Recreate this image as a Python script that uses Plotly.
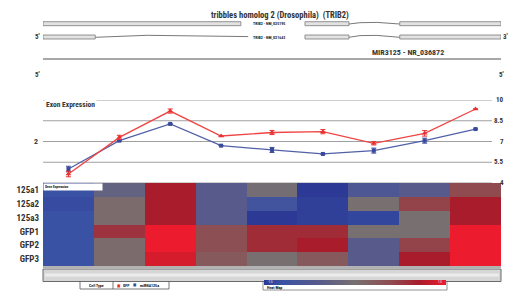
import plotly.graph_objects as go

# page is 520x306; the browser body margin (8px) offsets the figure, so the
# figure itself is 512x298 and page coordinates are converted below.
OFF = 8
W, H = 520 - OFF, 306 - OFF
def px(x): return (x - OFF) / W
def py(y): return 1 - (y - OFF) / H

FONT = "Liberation Sans Narrow, Roboto Condensed, DejaVu Sans Condensed, Arial Narrow, sans-serif"

# ---------------- data ----------------
exons = [1, 2, 3, 4, 5, 6, 7, 8, 9]
samples = ["125a1", "125a2", "125a3", "GFP1", "GFP2", "GFP3"]
heat_125a1 = [-0.8, -0.25, 0.7, -0.4, -0.05, -1.0, -0.55, -0.4, 0.4]
heat_125a2 = [-0.85, 0.05, 0.7, -0.4, -0.7, -0.95, 0.0, 0.45, 0.7]
heat_125a3 = [-0.8, 0.05, 0.7, -0.4, -1.0, -0.95, -0.9, 0.0, 0.7]
heat_gfp1 = [-0.8, 0.55, 1.0, 0.35, 0.6, 0.6, 0.0, 0.0, 1.0]
heat_gfp2 = [-0.8, 0.05, 1.0, 0.35, 0.6, 0.7, -0.4, 0.45, 1.0]
heat_gfp3 = [-0.8, 0.05, 0.9, 0.25, 0.0, 0.25, -0.4, 0.7, 1.0]

gfp_mean = [4.65, 7.30, 9.20, 7.40, 7.65, 7.71, 6.87, 7.59, 9.35]
gfp_err = [0.2, 0.15, 0.15, 0.0, 0.15, 0.15, 0.12, 0.2, 0.0]
mir_mean = [5.01, 7.06, 8.27, 6.70, 6.39, 6.10, 6.34, 7.06, 7.90]
mir_err = [0.2, 0.0, 0.0, 0.0, 0.18, 0.0, 0.18, 0.18, 0.0]
y_ticks = [4, 5.5, 7, 8.5, 10]

# transcript exon extents (track units 0-100)
tx1_exons = [(0, 43.2), (57.2, 66.8), (77.9, 100)]
tx2_exons = [(0, 11.4), (57.2, 66.8), (77.9, 100)]
tx1_intron_x = [66.8, 69.2, 72.9, 77.9]
tx2_intron1_x = [11.4, 22.7, 44.8]
tx2_intron2_x = [66.8, 69.2, 72.9, 77.9]

colorscale = [[0.0, "#2c3a96"], [0.1, "#3a52a3"], [0.3, "#575a8a"], [0.5, "#787070"],
              [0.7, "#8f4b50"], [0.85, "#a81c2c"], [1.0, "#ec1c2e"]]

XDOM = [px(43), px(501)]

fig = go.Figure()

# heatmap
fig.add_trace(go.Heatmap(
    z=[heat_125a1, heat_125a2, heat_125a3, heat_gfp1, heat_gfp2, heat_gfp3],
    x=list(range(len(exons))), y=samples, zmin=-1, zmax=1,
    colorscale=colorscale, xaxis="x", yaxis="y", hoverinfo="skip",
    colorbar=dict(orientation="h", x=px(355), xanchor="center", y=py(279.5), yanchor="top",
                  len=182, lenmode="pixels", thickness=5, xpad=0, ypad=0,
                  outlinewidth=0, showticklabels=False, ticks=""),
))

# line chart
fig.add_trace(go.Scatter(
    x=list(range(len(exons))), y=mir_mean, mode="lines+markers", xaxis="x2", yaxis="y2",
    line=dict(color="#5260a8", width=1.3),
    marker=dict(symbol="square", size=4, color="#3a4a9a"),
    error_y=dict(type="data", array=mir_err, color="#3a4a9a", thickness=1, width=2.5),
    showlegend=False, cliponaxis=False))
fig.add_trace(go.Scatter(
    x=list(range(len(exons))), y=gfp_mean, mode="lines+markers", xaxis="x2", yaxis="y2",
    line=dict(color="#f04444", width=1.3),
    marker=dict(symbol="triangle-up", size=5, color="#e83030"),
    error_y=dict(type="data", array=gfp_err, color="#e83030", thickness=1, width=2.5),
    showlegend=False, cliponaxis=False))

shapes = []
annotations = []

# gene track: exon boxes
for (a, b) in tx1_exons:
    shapes.append(dict(type="rect", xref="x3", yref="paper", x0=a, x1=b, y0=py(25.7), y1=py(21.7),
                       fillcolor="#e2e2e2", line=dict(color="#7a7a7a", width=0.8)))
for (a, b) in tx2_exons:
    shapes.append(dict(type="rect", xref="x3", yref="paper", x0=a, x1=b, y0=py(39), y1=py(35),
                       fillcolor="#e2e2e2", line=dict(color="#7a7a7a", width=0.8)))
# intron lines
for xs, ys in [(tx1_intron_x, [24, 22.7, 22.4, 24]),
               (tx2_intron1_x, [37.3, 35.3, 36.6]),
               (tx2_intron2_x, [37.3, 35.6, 35.4, 37.3])]:
    fig.add_trace(go.Scatter(x=xs, y=[py(v) for v in ys], mode="lines", xaxis="x3", yaxis="y3",
                             line=dict(color="#555", width=0.8), showlegend=False, hoverinfo="skip"))
# MIR3125 line
shapes.append(dict(type="line", xref="x3", yref="paper", x0=0, x1=100, y0=py(59), y1=py(59),
                   line=dict(color="#8a8a8a", width=1.5)))

def ann(text, x, y, size, xanchor="center", yanchor="middle", bold=False, color="#333", **kw):
    t = f"<b>{text}</b>" if bold else text
    annotations.append(dict(text=t, x=px(x), y=py(y), xref="paper", yref="paper", showarrow=False,
                            xanchor=xanchor, yanchor=yanchor,
                            font=dict(family=FONT, size=size, color=color), **kw))

ann("tribbles homolog 2 (Drosophila)  (TRIB2)", 280, 15, 8.5, bold=True)
ann("TRIB2 - NM_025195", 269, 23.6, 4, bold=True, color="#222")
ann("TRIB2 - NM_021643", 269, 37, 4, bold=True, color="#222")
ann("5'", 37, 37, 7, bold=True)
ann("3'", 505, 37, 7, bold=True)
ann("MIR3125 - NR_036872", 408, 52, 8, bold=True)
ann("5'", 37, 75, 7, bold=True)
ann("5'", 501, 75, 7, bold=True)

# line chart gridlines and labels
for t in y_ticks:
    shapes.append(dict(type="line", xref="paper", yref="y2", x0=px(43), x1=px(492), y0=t, y1=t,
                       line=dict(color="#a0a0a0", width=1), layer="below"))
    annotations.append(dict(text=f"<b>{t:g}</b>", x=px(506), y=t, xref="paper", yref="y2",
                            showarrow=False, xanchor="right", yanchor="middle",
                            font=dict(family=FONT, size=7, color="#333")))
annotations.append(dict(text="<b>2</b>", x=px(40), y=7, xref="paper", yref="y2", showarrow=False,
                        xanchor="right", yanchor="middle", font=dict(family=FONT, size=8, color="#333")))
ann("Exon Expression", 44, 104.5, 7.5, xanchor="left", bold=True, bgcolor="white", borderpad=1)

# gene expression tag on heatmap
ann("Gene Expression", 43, 182.5, 3.5, xanchor="left", yanchor="top", bold=True, color="#111",
    bgcolor="white", borderpad=1, width=56, align="left")

# bottom bar
shapes.append(dict(type="line", xref="paper", yref="paper", x0=px(43), x1=px(501), y0=py(267), y1=py(267),
                   line=dict(color="#666", width=1)))
shapes.append(dict(type="rect", xref="paper", yref="paper", x0=px(43), x1=px(501), y0=py(281.5), y1=py(269),
                   fillcolor="#d6d6d6", line=dict(color="#6a6a6a", width=1)))
shapes.append(dict(type="line", xref="paper", yref="paper", x0=px(45), x1=px(499), y0=py(275), y1=py(275),
                   line=dict(color="#ececec", width=3)))

# legend box
shapes.append(dict(type="rect", xref="paper", yref="paper", x0=px(80), x1=px(169), y0=py(289), y1=py(281.5),
                   fillcolor="white", line=dict(color="#555", width=0.8)))
shapes.append(dict(type="line", xref="paper", yref="paper", x0=px(113), x1=px(113), y0=py(289), y1=py(281.5),
                   line=dict(color="#555", width=0.8)))
ann("Cell Type", 96, 285, 4, bold=True, color="#111")
ann("■", 119, 285, 4, color="#e83030")
ann("GFP", 126, 285, 4, bold=True, color="#111")
ann("■", 135, 284, 4, color="#3a4a9a")
ann("miRNA125a", 149, 285, 4, bold=True, color="#111")

# heat map key box
shapes.append(dict(type="rect", xref="paper", yref="paper", x0=px(263), x1=px(447), y0=py(290), y1=py(278.5),
                   fillcolor="white", line=dict(color="#777", width=0.8), layer="below"))
ann("Heat Map", 265, 287, 4, xanchor="left", bold=True, color="#111")
ann("-1.5", 266, 281.5, 3, xanchor="left", color="white")
ann("1.5", 444, 281.5, 3, xanchor="right", color="white")

fig.update_layout(
    width=W, height=H, margin=dict(l=0, r=0, t=0, b=0, autoexpand=False),
    paper_bgcolor="white", plot_bgcolor="rgba(0,0,0,0)",
    showlegend=False,
    shapes=shapes, annotations=annotations,
    xaxis=dict(domain=XDOM, range=[-0.5, 8.5], visible=False, fixedrange=True),
    yaxis=dict(domain=[py(266), py(183)], autorange="reversed", showgrid=False, zeroline=False,
               ticks="", ticklabelstandoff=3, automargin=False,
               tickfont=dict(family=FONT, size=9, color="#333", weight="bold")),
    xaxis2=dict(domain=XDOM, range=[-0.5, 8.5], visible=False, anchor="y2"),
    yaxis2=dict(domain=[py(183), py(100)], range=[4, 10], visible=False, anchor="x2"),
    xaxis3=dict(domain=XDOM, range=[0, 100], visible=False, anchor="y3"),
    yaxis3=dict(domain=[0, 1], range=[0, 1], visible=False, anchor="x3"),
)

fig.write_html("out.html")
